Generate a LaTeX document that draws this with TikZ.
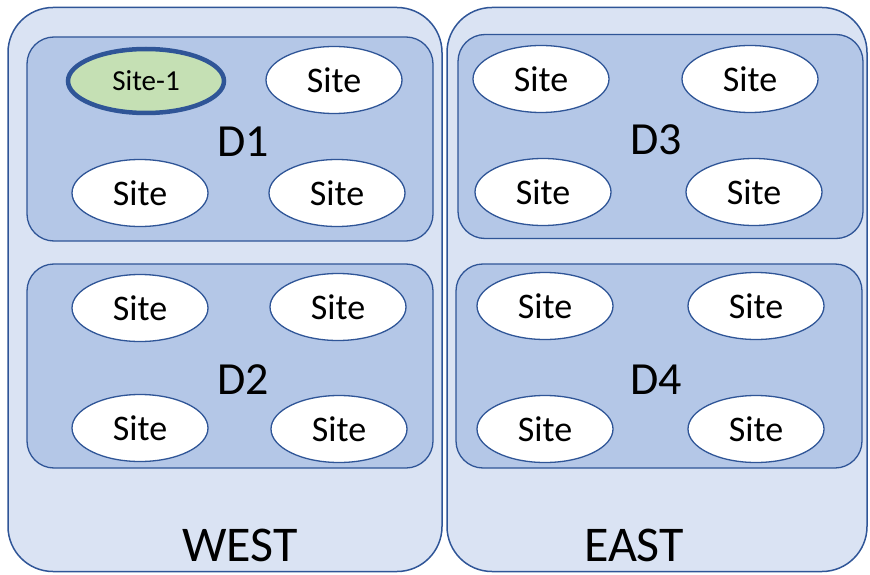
\documentclass[tikz,border=0pt]{standalone}
\usepackage{fontspec}
\setmainfont{Carlito}
\usetikzlibrary{shapes.geometric}
\definecolor{regfill}{HTML}{DAE3F3}
\definecolor{dfill}{HTML}{B4C7E7}
\definecolor{edge}{HTML}{2F5597}
\definecolor{greenfill}{HTML}{C5E0B4}
\tikzset{
  region/.style={draw=edge, fill=regfill, line width=1.5pt, rounded corners=45pt, inner sep=0pt},
  dom/.style={draw=edge, fill=dfill, line width=1.3pt, rounded corners=27pt, inner sep=0pt, minimum width=406pt, minimum height=204pt},
  site/.style={ellipse, draw=edge, fill=white, line width=1.3pt, minimum width=136pt, minimum height=67pt, inner sep=0pt, font=\fontsize{36}{40}\selectfont},
  siteone/.style={ellipse, draw=edge, fill=greenfill, line width=4.5pt, minimum width=156pt, minimum height=64pt, inner sep=0pt, font=\fontsize{29}{34}\selectfont},
  dlabel/.style={font=\fontsize{46}{52}\selectfont, inner sep=0pt},
  rlabel/.style={font=\fontsize{50}{56}\selectfont, inner sep=0pt}
}
\begin{document}
\begin{tikzpicture}[x=1pt,y=-1pt]
\useasboundingbox (0,0) rectangle (870,575);
% regions
\node[region, minimum width=434pt, minimum height=564pt] (west) at (225,289.5) {};
\node[region, minimum width=420pt, minimum height=564pt] (east) at (657,289.5) {};
% domains
\node[dom] (d1) at (230,139) {};
\node[dom] (d2) at (230,366) {};
\node[dom, minimum width=405pt] (d3) at (660.5,136.5) {};
\node[dom] (d4) at (659,366) {};
% domain labels
\node[dlabel] (d1l) at (243,142) {D1};
\node[dlabel] (d2l) at (243,380) {D2};
\node[dlabel] (d3l) at (656,140) {D3};
\node[dlabel] (d4l) at (656,380) {D4};
% region labels
\node[rlabel] (westl) at (240,545) {WEST};
\node[rlabel] (eastl) at (634,545) {EAST};
% D1 sites
\node[siteone] (s11) at (146,81) {Site-1};
\node[site] (s12) at (334,80) {Site};
\node[site] (s13) at (140,193) {Site};
\node[site] (s14) at (337,193) {Site};
% D2 sites
\node[site] (s21) at (140,308) {Site};
\node[site] (s22) at (338,307) {Site};
\node[site] (s23) at (140,428) {Site};
\node[site] (s24) at (339,429) {Site};
% D3 sites
\node[site] (s31) at (541,79) {Site};
\node[site] (s32) at (750,79) {Site};
\node[site] (s33) at (543,192) {Site};
\node[site] (s34) at (754,192) {Site};
% D4 sites
\node[site] (s41) at (545,306) {Site};
\node[site] (s42) at (756,306) {Site};
\node[site] (s43) at (545,429) {Site};
\node[site] (s44) at (756,429) {Site};
\end{tikzpicture}
\end{document}
